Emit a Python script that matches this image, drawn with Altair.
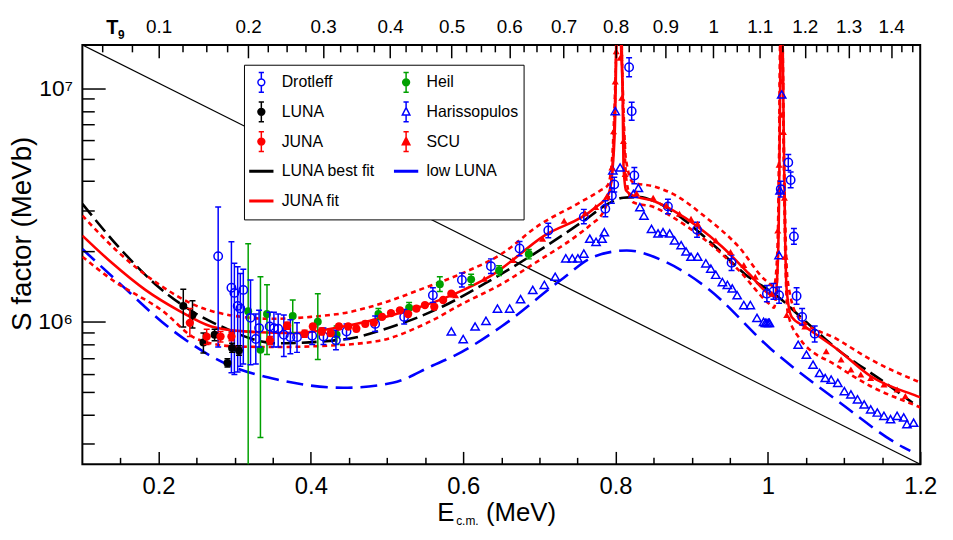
import altair as alt
import pandas as pd

FONT = "Liberation Sans"
BLUE, RED, GREEN, BLACK = "#0000ff", "#ff0000", "#00a000", "#000000"

# ---------------- axis ranges / ticks ----------------
E_MIN, E_MAX = 0.1, 1.2
S_MIN, S_MAX = 2.455e5, 1.533e7

X_MAJOR = [0.2, 0.4, 0.6, 0.8, 1.0, 1.2]
X_MINOR = [0.15, 0.25, 0.3, 0.35, 0.45, 0.5, 0.55, 0.65, 0.7, 0.75,
           0.85, 0.9, 0.95, 1.05, 1.1, 1.15]
Y_MAJOR = [1e6, 1e7]
Y_MINOR = [3e5, 4e5, 5e5, 6e5, 7e5, 8e5, 9e5,
           2e6, 3e6, 4e6, 5e6, 6e6, 7e6, 8e6, 9e6]
T9_MAJOR = [0.1, 0.2, 0.3, 0.4, 0.5, 0.6, 0.7, 0.8, 0.9, 1.0, 1.1, 1.2, 1.3, 1.4]
T9_LABELS = ["0.1", "0.2", "0.3", "0.4", "0.5", "0.6", "0.7", "0.8", "0.9",
             "1", "1.1", "1.2", "1.3", "1.4"]
T9_MINOR = [round(0.025 * k, 3) for k in range(2, 59) if k % 4]

# Gamow peak energy for 13C + alpha: E0 = 0.122 (Z1^2 Z2^2 mu)^(1/3) T9^(2/3) MeV
MU = 13.0034 * 4.0026 / 17.0060
GAMOW = 0.122 * (6 ** 2 * 2 ** 2 * MU) ** (1 / 3)


def t9_to_e(t):
    return GAMOW * t ** (2 / 3)


TOP_MAJOR_E = [t9_to_e(t) for t in T9_MAJOR]
TOP_MINOR_E = [t9_to_e(t) for t in T9_MINOR if t9_to_e(t) > E_MIN]

# ---------------- data (S in units of 1e6 MeV b) ----------------
DRO_E = [0.2783, 0.2957, 0.2996, 0.3039, 0.3074, 0.3113, 0.3208, 0.3277, 0.3320, 0.3459,
         0.3515, 0.3571, 0.3645, 0.3731, 0.3818, 0.4017, 0.4165, 0.4329, 0.4468, 0.4844,
         0.5225, 0.5602, 0.5983, 0.6364, 0.6740, 0.7117, 0.7584, 0.7866, 0.7952, 0.7983,
         0.8178, 0.8212, 0.8247, 0.8688, 0.9070, 0.9523, 0.9987, 1.0073, 1.0147, 1.0169,
         1.0268, 1.0299, 1.0342, 1.0377, 1.0450, 1.0615]
DRO_S = [1.91, 1.40, 1.33, 1.17, 1.14, 1.37, 1.04, 0.844, 0.94, 0.955,
         0.94, 0.934, 0.881, 0.86, 0.86, 0.872, 0.865, 0.833, 0.909, 0.980,
         1.05, 1.30, 1.51, 1.73, 2.06, 2.46, 2.82, 3.05, 3.47, 3.87,
         12.3, 7.98, 4.23, 3.12, 2.48, 1.79, 1.32, 1.35, 1.30, 3.70,
         4.81, 4.05, 2.32, 1.29, 1.05, 0.89]
DRO_LO = [0.78, 0.605, 0.595, 0.61, 0.645, 0.66, 0.655, 0.66, 0.78, 0.80,
          0.78, 0.78, 0.71, 0.73, 0.74, 0.80, 0.80, 0.76, 0.84, 0.91,
          0.98, 1.21, 1.41, 1.61, 1.92, 2.29, 2.63, 2.82, 3.22, 3.60,
          11.2, 7.30, 3.90, 2.90, 2.30, 1.66, 1.22, 1.25, 1.20, 3.42,
          4.45, 3.75, 2.15, 1.19, 0.97, 0.82]
DRO_HI = [3.10, 2.20, 1.78, 1.72, 1.61, 1.68, 1.51, 1.08, 1.12, 1.10,
          1.10, 1.08, 1.07, 1.02, 0.99, 0.95, 0.94, 0.92, 0.98, 1.06,
          1.13, 1.40, 1.62, 1.86, 2.21, 2.64, 3.03, 3.30, 3.74, 4.16,
          13.5, 8.70, 4.58, 3.35, 2.67, 1.93, 1.43, 1.46, 1.41, 4.00,
          5.20, 4.38, 2.51, 1.40, 1.14, 0.96]

LUNA_E = [0.2325, 0.2446, 0.2589, 0.2736, 0.2905, 0.2965, 0.3056]
LUNA_S = [1.17, 1.07, 0.816, 0.881, 0.667, 0.773, 0.754]
LUNA_LO = [0.95, 0.94, 0.736, 0.83, 0.64, 0.74, 0.72]
LUNA_HI = [1.38, 1.23, 0.895, 0.93, 0.695, 0.81, 0.79]

JUNA_E = [0.2411, 0.2632, 0.2814, 0.2957, 0.3463, 0.3688, 0.3918, 0.4026, 0.4143, 0.4260,
          0.4368, 0.4490, 0.4597, 0.4714, 0.4827, 0.4935, 0.5052, 0.5169, 0.5277, 0.5386,
          0.5498, 0.5620, 0.5736, 0.5844]
JUNA_S = [0.99, 0.864, 0.865, 0.865, 0.833, 0.962, 0.889, 0.955, 0.909, 0.895,
          0.955, 0.955, 0.934, 0.980, 0.993, 1.05, 1.09, 1.12, 1.08, 1.14,
          1.18, 1.16, 1.24, 1.32]
JUNA_LO = [0.865, 0.80, 0.82, 0.83, 0.80, 0.93, 0.86, 0.93, 0.88, 0.87,
           0.93, 0.93, 0.91, 0.955, 0.97, 1.025, 1.065, 1.095, 1.055, 1.115,
           1.155, 1.135, 1.215, 1.29]
JUNA_HI = [1.14, 0.93, 0.91, 0.90, 0.866, 0.995, 0.92, 0.98, 0.94, 0.92,
           0.98, 0.98, 0.96, 1.005, 1.02, 1.075, 1.115, 1.145, 1.105, 1.165,
           1.205, 1.185, 1.265, 1.35]

HEIL_E = [0.3177, 0.3338, 0.3424, 0.3762, 0.4091, 0.4338, 0.4887, 0.5290, 0.5693, 0.6104,
          0.6471, 0.6861]
HEIL_S = [1.11, 0.76, 1.08, 1.06, 1.00, 0.881, 1.08, 1.15, 1.45, 1.52, 1.66, 1.95]
HEIL_LO = [0.12, 0.32, 0.724, 0.895, 0.69, 0.80, 1.02, 1.09, 1.35, 1.44, 1.58, 1.86]
HEIL_HI = [2.16, 1.56, 1.44, 1.24, 1.32, 0.96, 1.14, 1.21, 1.56, 1.60, 1.74, 2.04]

HAR_E = [0.5844, 0.6000, 0.6156, 0.6299, 0.6450, 0.6610, 0.6753, 0.6913, 0.7065, 0.7208,
         0.7347, 0.7432, 0.7506, 0.7584, 0.7662, 0.7744, 0.7823, 0.7853, 0.7965, 0.7996,
         0.8060, 0.8234, 0.8300, 0.8320, 0.8373, 0.8472, 0.8558, 0.8623, 0.8710, 0.8775,
         0.8861, 0.8926, 0.8991, 0.9078, 0.9186, 0.9251, 0.9316, 0.9403, 0.9468, 0.9532,
         0.9597, 0.9684, 0.9770, 0.9857, 0.9944, 0.9966, 0.9987, 1.0009, 1.0020, 1.0147,
         1.0160, 1.0182, 1.0398, 1.0506, 1.0593, 1.0679, 1.0753, 1.0831, 1.0918, 1.1004,
         1.1090, 1.1177, 1.1264, 1.1350, 1.1437, 1.1524, 1.1610, 1.1697, 1.1783, 1.1826,
         1.1913]
HAR_S = [0.91, 0.844, 0.955, 1.01, 1.14, 1.14, 1.25, 1.37, 1.44, 1.56,
         1.87, 1.87, 1.87, 1.96, 2.27, 2.20, 2.27, 2.42, 4.45, 7.98,
         4.58, 3.53, 3.74, 3.10, 2.85, 2.50, 2.39, 2.42, 2.39, 2.23,
         2.13, 2.00, 1.90, 1.90, 1.78, 1.69, 1.59, 1.48, 1.44, 1.39,
         1.30, 1.18, 1.18, 1.04, 1.00, 0.99, 0.99, 0.99, 0.99, 1.93,
         3.65, 9.40, 0.798, 0.724, 0.656, 0.604, 0.575, 0.566, 0.548, 0.505,
         0.489, 0.466, 0.443, 0.422, 0.409, 0.396, 0.383, 0.396, 0.390, 0.365,
         0.370]

SCU_E = [0.5900, 0.6277, 0.6653, 0.7043, 0.7325, 0.7600, 0.7740, 0.7887, 0.7952, 0.7974,
         0.7996, 0.8009, 0.8060, 0.8082, 0.8104, 0.8126, 0.8276, 0.8494, 0.8666, 0.8840,
         0.8991, 0.9078, 0.9316, 0.9510, 0.9684, 0.9835, 1.0052, 1.0130, 1.0147, 1.0173,
         1.0182, 1.0204, 1.0217, 1.0225, 1.0247, 1.0485, 1.0766, 1.0961, 1.1090, 1.1220,
         1.1350, 1.1524, 1.1697, 1.1805]
SCU_S = [1.30, 1.53, 1.84, 2.27, 2.71, 2.92, 3.10, 3.45, 4.58, 6.55,
         10.7, 14.4, 13.5, 9.10, 5.95, 4.30, 3.55, 3.40, 3.15, 2.90,
         2.76, 2.63, 2.23, 1.99, 1.75, 1.56, 1.32, 2.46, 4.70, 7.70,
         10.7, 6.50, 3.40, 1.90, 1.07, 0.955, 0.748, 0.690, 0.625, 0.595,
         0.575, 0.540, 0.513, 0.481]

# fits
JF_E = [0.10, 0.1394, 0.1827, 0.226, 0.2693, 0.3126, 0.3775, 0.4424, 0.5074, 0.5636,
        0.5896, 0.6373, 0.7065, 0.7714, 0.7909, 0.7965, 0.7996, 0.8010, 0.8045, 0.8073,
        0.8094, 0.8104, 0.8139, 0.8234, 0.8494, 0.8753, 0.9403, 0.9749, 1.0009, 1.0095,
        1.0130, 1.0147, 1.0160, 1.0178, 1.0195, 1.0208, 1.0225, 1.0247, 1.0312, 1.0485,
        1.0918, 1.1350, 1.1957, 1.2000]
JF_S = [2.34, 1.78, 1.37, 1.12, 0.955, 0.91, 0.895, 0.955, 1.07, 1.22,
        1.32, 1.58, 2.34, 3.05, 3.53, 4.7, 7.7, 15.0, 40.0, 15.0,
        9.1, 4.7, 3.65, 3.47, 3.30, 3.00, 2.09, 1.61, 1.32, 1.28,
        1.78, 3.4, 9.1, 40.0, 15.0, 6.5, 2.46, 1.37, 1.05, 0.955,
        0.76, 0.585, 0.481, 0.475]

JU_E = [0.10, 0.15, 0.20, 0.25, 0.30, 0.35, 0.40, 0.45, 0.50, 0.55,
        0.60, 0.65, 0.70, 0.75, 0.78, 0.790, 0.7955, 0.7990, 0.8045, 0.8100,
        0.8135, 0.8230, 0.8500, 0.8753, 0.9186, 0.9620, 0.9965, 1.0080, 1.0125, 1.0145,
        1.0178, 1.0205, 1.0225, 1.0260, 1.0398, 1.0918, 1.1350, 1.2000]
JU_S = [2.85, 1.95, 1.45, 1.17, 1.06, 1.03, 1.05, 1.10, 1.22, 1.40,
        1.62, 1.95, 2.60, 3.20, 3.65, 3.85, 5.0, 9.0, 40.0, 9.0,
        5.0, 3.95, 3.80, 3.53, 2.80, 2.09, 1.51, 1.42, 2.0, 4.5,
        40.0, 7.5, 3.0, 1.5, 1.05, 0.84, 0.69, 0.55]

JL_E = [0.10, 0.1394, 0.2043, 0.2519, 0.30, 0.35, 0.40, 0.4857, 0.55, 0.60,
        0.65, 0.6935, 0.75, 0.7671, 0.785, 0.7945, 0.7985, 0.8045, 0.8105, 0.8145,
        0.8230, 0.8500, 0.8753, 0.9186, 0.9620, 1.0009, 1.0080, 1.0125, 1.0145, 1.0178,
        1.0205, 1.0225, 1.0260, 1.0398, 1.0918, 1.1350, 1.1957, 1.2000]
JL_S = [1.90, 1.51, 1.12, 0.84, 0.785, 0.78, 0.785, 0.825, 0.98, 1.20,
        1.45, 1.78, 2.35, 2.60, 3.00, 4.0, 7.0, 40.0, 7.0, 4.0,
        3.25, 3.10, 2.80, 2.23, 1.66, 1.20, 1.15, 1.6, 4.0, 40.0,
        6.0, 2.2, 1.1, 0.865, 0.645, 0.53, 0.436, 0.43]

LB_E = [0.10, 0.15, 0.20, 0.25, 0.2779, 0.3558, 0.4424, 0.5074, 0.5723, 0.6286,
        0.6935, 0.7584, 0.79, 0.8104, 0.83, 0.8494, 0.8883, 0.9316, 0.97, 1.0134,
        1.05, 1.0918, 1.15, 1.178, 1.19]
LB_S = [3.20, 2.05, 1.41, 1.08, 0.97, 0.81, 0.84, 0.955, 1.16, 1.46,
        1.96, 2.71, 3.20, 3.40, 3.42, 3.30, 2.76, 2.09, 1.60, 1.28,
        1.0, 0.76, 0.56, 0.481, 0.45]

LL_E = [0.10, 0.15, 0.2173, 0.2909, 0.3558, 0.4424, 0.5074, 0.56, 0.59, 0.6502,
        0.7282, 0.7714, 0.8147, 0.8666, 0.9186, 1.005, 1.0918, 1.178, 1.187]
LL_S = [2.05, 1.45, 0.925, 0.656, 0.566, 0.522, 0.548, 0.65, 0.72, 0.955,
        1.51, 1.90, 2.02, 1.80, 1.41, 0.76, 0.458, 0.29, 0.28]

DIAG_E = [E_MIN, E_MAX]
DIAG_S = [S_MAX / 1e6, S_MIN / 1e6]

# legend (listed column by column: left column, then right column)
LEG_NAMES = ["Drotleff", "LUNA", "JUNA", "LUNA best fit", "JUNA fit",
             "Heil", "Harissopulos", "SCU", "low LUNA"]
P_CIRC = ("M0.3,0A0.3,0.3,0,1,1,-0.3,0A0.3,0.3,0,1,1,0.3,0Z"
          "M0,-0.3L0,-0.87M-0.23,-0.87L0.23,-0.87M0,0.3L0,0.87M-0.23,0.87L0.23,0.87")
P_TRI = ("M0,-0.36L0.33,0.27L-0.33,0.27Z"
         "M0,-0.36L0,-0.87M-0.23,-0.87L0.23,-0.87M0,0.27L0,0.87M-0.23,0.87L0.23,0.87")
P_LINE = ("M-1,-0.07L1,-0.07L1,0.07L-1,0.07Z"
          "M0,-0.87L0,-0.87M0,0.87L0,0.87")
LEG_SHAPE = [P_CIRC, P_CIRC, P_CIRC, P_LINE, P_LINE, P_CIRC, P_TRI, P_TRI, P_LINE]
LEG_STROKE = [BLUE, BLACK, RED, BLACK, RED, GREEN, BLUE, RED, BLUE]
LEG_FILL = ["transparent", BLACK, RED, BLACK, RED, GREEN, "transparent", RED, BLUE]


def frame(E, S, lo=None, hi=None):
    d = {"E": E, "S": [v * 1e6 for v in S]}
    if lo is not None:
        d["lo"] = [v * 1e6 for v in lo]
        d["hi"] = [v * 1e6 for v in hi]
    return pd.DataFrame(d)


XS = alt.Scale(domain=[E_MIN, E_MAX], nice=False, zero=False)
YS = alt.Scale(type="log", domain=[S_MIN, S_MAX], nice=False)

AXC = dict(domain=False, grid=False, tickColor=BLACK, tickWidth=1.5, labelFont=FONT,
           labelColor=BLACK, labelOverlap=False, labelFlush=False, labelBound=False, zindex=1)

AX_BOTTOM = alt.Axis(orient="bottom", values=X_MAJOR, format="~g", tickSize={"expr": "-13"},
                     labelPadding=23, labelFontSize=24, **AXC)
AX_BOTTOM_MINOR = alt.Axis(orient="bottom", values=X_MINOR, tickSize={"expr": "-7"},
                           labels=False, **AXC)
AX_LEFT = alt.Axis(orient="left", values=Y_MAJOR, tickSize={"expr": "-23"}, labelPadding=33,
                   labelFontSize=23, labelExpr="datum.value > 5e6 ? '10⁷' : '10⁶'",
                   titleFont=FONT, titleFontSize=28, titleFontWeight="normal", titleColor=BLACK,
                   titleX=-60, titleY=190, titleAngle=270, titleAlign="center",
                   titleBaseline="middle", **AXC)
AX_LEFT_MINOR = alt.Axis(orient="left", values=Y_MINOR, tickSize={"expr": "-12"},
                         labels=False, **AXC)
TOP_LABEL_EXPR = ("indexof(%s, datum.value) >= 0 ? %s[indexof(%s, datum.value)] : ''"
                  % (repr(TOP_MAJOR_E), repr(T9_LABELS), repr(TOP_MAJOR_E)))
AX_TOP = alt.Axis(orient="top", values=TOP_MAJOR_E, tickSize={"expr": "-13"}, labelPadding=22,
                  labelFontSize=19, labelExpr=TOP_LABEL_EXPR, **AXC)
AX_TOP_MINOR = alt.Axis(orient="top", values=TOP_MINOR_E, tickSize={"expr": "-7"},
                        labels=False, **AXC)


def xe(axis=None):
    return alt.X("E:Q", scale=XS, axis=axis, title=None)


def ye(field="S", axis=None, title=None):
    return alt.Y(f"{field}:Q", scale=YS, axis=axis, title=title)


def curve(df, color, width, dash=None, xaxis=None, yaxis=None, ytitle=None):
    kw = dict(color=color, strokeWidth=width, clip=True, interpolate="monotone")
    if dash:
        kw["strokeDash"] = dash
    return alt.Chart(df).mark_line(**kw).encode(x=xe(xaxis), y=ye("S", yaxis, ytitle))


def errbars(df, color, cap=6, width=1.5):
    base = alt.Chart(df)
    rule = base.mark_rule(color=color, strokeWidth=width, clip=True).encode(
        x=xe(), y=ye("lo"), y2=alt.Y2("hi:Q"))
    lo = base.mark_tick(color=color, orient="horizontal", size=cap, thickness=width,
                        clip=True, opacity=1).encode(x=xe(), y=ye("lo"))
    hi = base.mark_tick(color=color, orient="horizontal", size=cap, thickness=width,
                        clip=True, opacity=1).encode(x=xe(), y=ye("hi"))
    return [rule, lo, hi]


def points(df, color, shape, filled, size=64, sw=1.5):
    return alt.Chart(df).mark_point(shape=shape, filled=filled, color=color, size=size,
                                    strokeWidth=sw, opacity=1, clip=True).encode(
        x=xe(), y=ye())


def txt(text, x, y, size, weight="normal"):
    return alt.Chart(pd.DataFrame({"t": [text]})).mark_text(
        font=FONT, fontSize=size, fontWeight=weight, align="left", baseline="alphabetic",
        color=BLACK).encode(x=alt.value(x), y=alt.value(y), text="t:N")


dro = frame(DRO_E, DRO_S, DRO_LO, DRO_HI)
luna = frame(LUNA_E, LUNA_S, LUNA_LO, LUNA_HI)
juna = frame(JUNA_E, JUNA_S, JUNA_LO, JUNA_HI)
heil = frame(HEIL_E, HEIL_S, HEIL_LO, HEIL_HI)
har = frame(HAR_E, HAR_S)
scu = frame(SCU_E, SCU_S)

layers = [
    curve(frame(DIAG_E, DIAG_S), BLACK, 1.2, xaxis=AX_BOTTOM, yaxis=AX_LEFT,
          ytitle="S factor (MeVb)"),
    curve(frame(LL_E, LL_S), BLUE, 2.6, [17, 8], xaxis=AX_TOP),
    curve(frame(LB_E, LB_S), BLACK, 2.6, [15, 6], xaxis=AX_BOTTOM_MINOR, yaxis=AX_LEFT_MINOR),
    curve(frame(JU_E, JU_S), RED, 2.6, [5, 4], xaxis=AX_TOP_MINOR),
    curve(frame(JL_E, JL_S), RED, 2.6, [5, 4]),
    curve(frame(JF_E, JF_S), RED, 2.6),
    points(har, BLUE, "triangle-up", False, size=70),
]
layers += errbars(heil, GREEN)
layers += [points(heil, GREEN, "circle", True)]
layers += errbars(dro, BLUE)
layers += [points(dro, BLUE, "circle", False, size=72)]
layers += errbars(luna, BLACK)
layers += [points(luna, BLACK, "circle", True)]
layers += errbars(juna, RED)
layers += [points(juna, RED, "circle", True, size=70)]
layers += [points(scu, RED, "triangle-up", True, size=50)]

LEG = alt.Legend(title=None, orient="none", legendX=163, legendY=20, columns=2,
                 columnPadding=16, rowPadding=3, padding=5, symbolSize=529,
                 symbolStrokeWidth=1.5, symbolOpacity=1, labelFont=FONT, labelFontSize=16,
                 labelColor=BLACK, labelOffset=8, strokeColor=BLACK, fillColor="white")
legend_layer = alt.Chart(pd.DataFrame({"series": LEG_NAMES})).mark_point(
    opacity=1, size=529, clip=True, filled=False).encode(
    x=alt.value(-60), y=alt.value(-60),
    shape=alt.Shape("series:N", scale=alt.Scale(domain=LEG_NAMES, range=LEG_SHAPE), legend=LEG),
    stroke=alt.Stroke("series:N", scale=alt.Scale(domain=LEG_NAMES, range=LEG_STROKE), legend=LEG),
    fill=alt.Fill("series:N", scale=alt.Scale(domain=LEG_NAMES, range=LEG_FILL), legend=LEG),
)
layers.append(legend_layer)

layers += [
    txt("T", 24, -11, 20, "bold"),
    txt("9", 36, -6, 12, "bold"),
    txt("E", 358, 480, 26),
    txt("c.m.", 377, 484, 12),
    txt("(MeV)", 407, 480, 26),
]

chart = alt.layer(*layers).resolve_axis(x="independent", y="independent").properties(
    width=845, height=423,
    autosize=alt.AutoSizeParams(type="none"),
    padding={"left": 75, "top": 35, "right": 25, "bottom": 60},
    background="white",
).configure_view(stroke=BLACK, strokeWidth=2)

chart.save("out.html", embed_options={"renderer": "svg", "actions": False})
